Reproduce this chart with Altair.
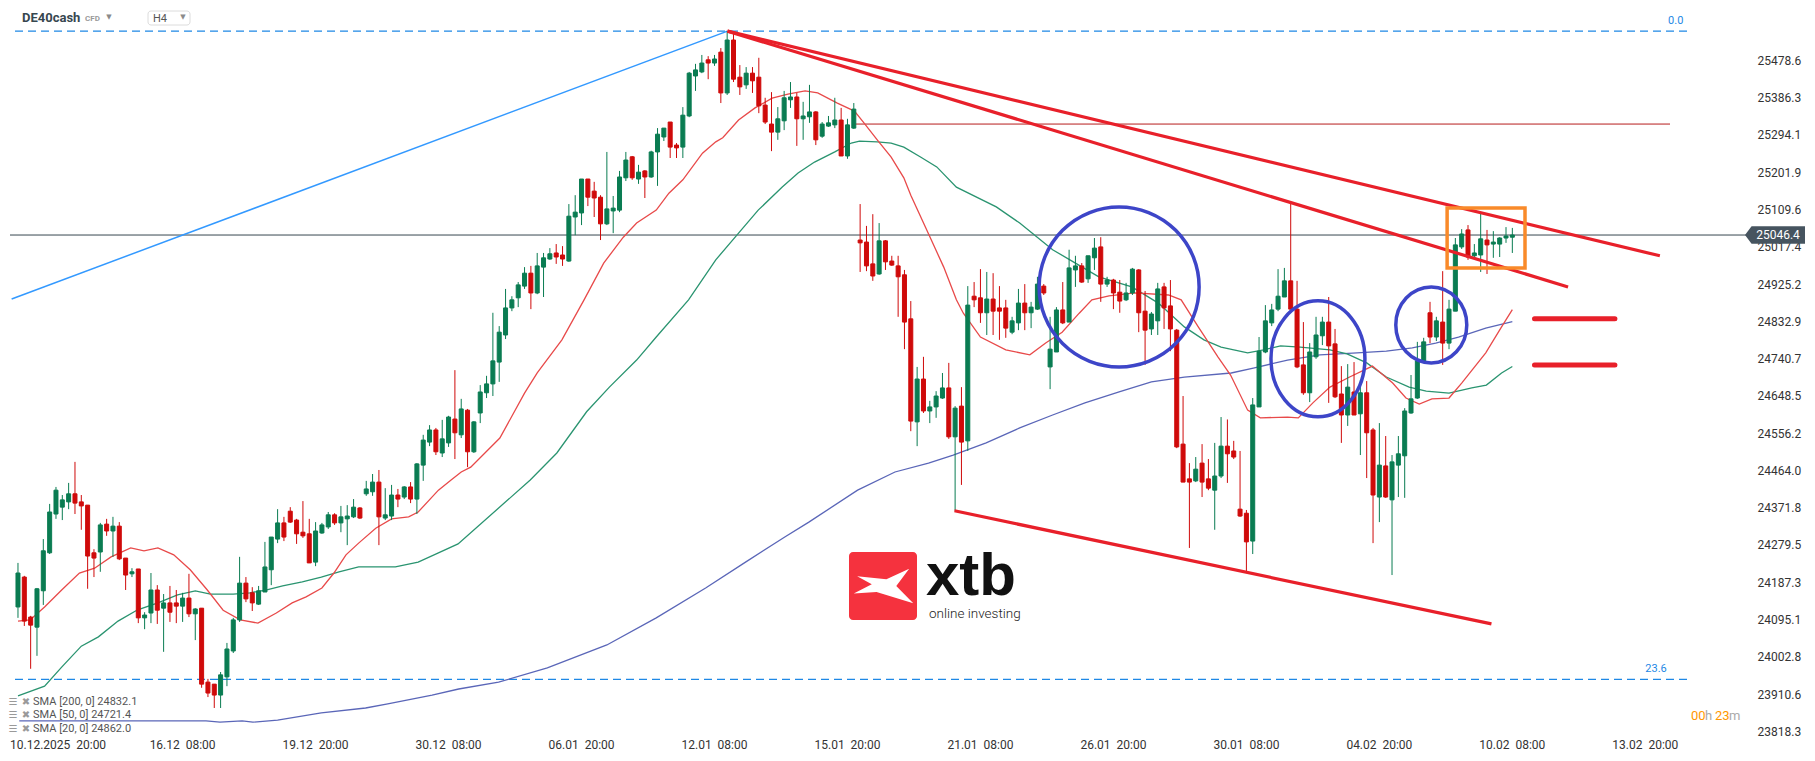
import altair as alt
import pandas as pd

# ---------------- data ----------------
OPEN = [24126,24200,24101,24076,24166,24260,24356,24373,24386,24406,24386,24378,24260,24262,24331,24314,24326,24247,24208,24220,
        24099,24111,24168,24123,24136,24136,24128,24148,24109,24123,23940,23935,23908,23953,24017,24094,24185,24161,24133,24163,
        24218,24294,24334,24363,24341,24311,24307,24237,24309,24324,24354,24334,24344,24349,24371,24406,24411,24435,24346,24351,
        24403,24398,24423,24393,24477,24534,24564,24507,24532,24591,24552,24613,24510,24606,24656,24678,24732,24799,24866,24891,
        24920,24952,24903,24967,24987,25002,24997,24982,25091,25101,25185,25155,25140,25074,25106,25108,25188,25240,25185,25205,
        25190,25252,25289,25326,25269,25264,25341,25440,25450,25480,25472,25499,25398,25529,25437,25418,25447,25437,25368,25321,
        25301,25329,25381,25388,25334,25339,25351,25291,25316,25319,25331,25242,25311,25034,25029,24975,24950,25032,24982,24970,
        24948,24839,24584,24690,24611,24621,24643,24668,24547,24623,24537,24895,24891,24854,24888,24866,24866,24806,24829,24878,
        24854,24863,24920,24720,24757,24861,24831,24960,24970,24938,24990,25017,24925,24935,24905,24886,24903,24960,24858,24814,
        24834,24918,24871,24811,24529,24443,24438,24482,24443,24415,24450,24524,24512,24368,24358,24289,24621,24757,24829,24863,
        24893,24933,24863,24725,24656,24745,24797,24831,24777,24653,24601,24658,24604,24656,24564,24398,24475,24391,24477,24500,
        24606,24643,24732,24854,24794,24831,24779,24858,25017,25059,24995,24997,25034,25024,25024,25039,25041]
HIGH = [24235,24203,24104,24173,24294,24381,24423,24403,24433,24485,24403,24378,24269,24334,24344,24349,24336,24247,24222,24220,
        24113,24210,24180,24158,24178,24168,24161,24208,24123,24123,23948,23935,23965,24037,24099,24250,24200,24175,24178,24287,
        24299,24368,24349,24373,24344,24388,24344,24336,24334,24361,24358,24376,24378,24393,24373,24438,24455,24465,24420,24428,
        24418,24425,24435,24482,24552,24576,24569,24589,24599,24712,24641,24616,24586,24675,24698,24854,24821,24913,24895,24930,
        24967,24970,25002,25002,25014,25024,25019,25123,25145,25185,25185,25178,25145,25252,25143,25205,25252,25242,25220,25207,
        25255,25311,25311,25326,25274,25363,25450,25470,25492,25489,25492,25509,25551,25546,25467,25462,25462,25485,25386,25400,
        25363,25403,25425,25398,25376,25418,25353,25326,25341,25386,25361,25334,25373,25123,25069,25098,25076,25034,24995,24995,
        24960,24883,24720,24745,24636,24660,24705,24730,24623,24670,24920,24930,24962,24955,24952,24920,24886,24844,24913,24925,
        24881,24943,24925,24844,24868,24930,25010,24995,24977,24995,25039,25041,24943,24938,24935,24928,24965,24962,24908,24856,
        24928,24928,24935,24814,24648,24482,24497,24529,24492,24532,24596,24590,24537,24512,24366,24643,24794,24873,24876,24962,
        24965,25126,24933,24831,24779,24844,24844,24893,24814,24722,24727,24732,24688,24685,24569,24581,24549,24502,24549,24618,
        24700,24782,24792,24881,24844,24957,24886,25039,25061,25071,25024,25103,25059,25056,25041,25066,25064]
LOW = [24099,24079,23973,24005,24131,24257,24344,24341,24368,24356,24317,24171,24200,24213,24302,24250,24242,24168,24200,24086,
       24071,24086,24084,24015,24089,24086,24089,24101,24044,23926,23903,23876,23876,23930,24012,24089,24138,24116,24131,24163,
       24180,24284,24289,24334,24282,24297,24235,24227,24307,24319,24329,24311,24279,24346,24344,24401,24401,24279,24341,24341,
       24373,24393,24383,24356,24438,24524,24502,24497,24522,24492,24544,24472,24507,24581,24643,24648,24683,24789,24858,24868,
       24913,24863,24900,24893,24985,24975,24970,24980,25046,25071,25118,25091,25034,25071,25051,25103,25180,25183,25173,25138,
       25188,25168,25279,25237,25237,25237,25338,25403,25447,25432,25465,25373,25393,25425,25393,25408,25398,25348,25321,25254,
       25282,25306,25361,25267,25282,25324,25269,25287,25314,25311,25242,25235,25309,24955,24957,24933,24948,24960,24970,24844,
       24764,24561,24524,24606,24581,24594,24641,24542,24364,24428,24512,24868,24829,24799,24799,24787,24792,24801,24811,24811,
       24816,24861,24898,24665,24757,24826,24831,24918,24928,24928,24960,24881,24918,24863,24854,24883,24898,24806,24725,24799,
       24799,24814,24759,24519,24435,24272,24435,24398,24415,24317,24445,24433,24492,24349,24213,24257,24621,24754,24821,24858,
       24893,24863,24717,24651,24633,24740,24774,24631,24643,24532,24574,24601,24502,24445,24284,24336,24396,24205,24398,24396,
       24604,24641,24730,24779,24784,24725,24764,24858,25012,24985,24992,24955,24950,24990,24992,25027,25002]
CLOSE = [24210,24091,24081,24171,24265,24361,24415,24391,24406,24383,24376,24252,24247,24329,24314,24326,24245,24205,24213,24099,
         24106,24168,24118,24136,24113,24128,24148,24109,24121,23935,23913,23908,23958,24022,24094,24185,24146,24136,24166,24225,
         24299,24334,24299,24336,24307,24302,24235,24314,24329,24354,24334,24349,24351,24373,24346,24418,24435,24349,24354,24403,
         24393,24423,24393,24480,24539,24564,24510,24542,24596,24557,24616,24510,24584,24658,24678,24735,24806,24866,24886,24923,
         24952,24903,24970,24990,25000,24992,24987,25093,25103,25185,25140,25138,25074,25111,25113,25190,25232,25188,25202,25190,
         25252,25296,25311,25264,25262,25343,25447,25455,25472,25472,25482,25398,25529,25432,25413,25447,25428,25366,25326,25301,
         25334,25386,25388,25334,25341,25351,25282,25321,25324,25331,25242,25319,25358,25027,24970,24945,25032,24980,24972,24943,
         24831,24586,24690,24611,24621,24648,24668,24547,24618,24534,24873,24886,24854,24888,24858,24858,24816,24834,24878,24854,
         24868,24925,24903,24764,24861,24829,24965,24970,24930,24995,25014,24925,24935,24903,24883,24903,24962,24854,24811,24851,
         24913,24866,24814,24522,24435,24435,24467,24435,24420,24450,24524,24505,24497,24351,24287,24626,24759,24834,24861,24895,
         24933,24863,24720,24656,24757,24799,24831,24772,24646,24601,24670,24601,24656,24557,24403,24477,24398,24485,24505,24611,
         24641,24735,24782,24794,24834,24779,24863,25022,25049,24992,25002,25037,25022,25029,25039,25044,25046.4]

SMA20_IDX = [0,1.9,4.2,6.9,9.7,12.1,14.7,17.8,19.9,22.1,24.6,27.2,29.9,32.4,35.1,37.9,40.8,43.3,45.5,48.0,49.9,51.8,53.8,
             56.5,59.0,61.7,63.2,66.4,68.4,70.0,71.5,76.1,80.0,82.0,85.9,89.4,92.5,95.6,97.7,100.8,102.8,105.0,108.1,110.2,
             111.3,113.8,116.4,119.1,121.6,124.3,126.3,129.4,132.1,133.6,135.7,137.9,139.9,141.0,144.1,146.2,148.2,149.3,
             152.0,156.0,159.8,162.3,164.9,167.6,169.6,172.3,176.4,181.7,183.7,186.4,189.5,191.5,194.2,196.2,200.5,202.2,
             204.5,207.2,210.3,213.9,217.1,219.2,221.3,223.3,226.0,228.0,231.8,234.3,236]
SMA20_VAL = [24091,24094,24126,24168,24210,24222,24250,24272,24265,24272,24255,24218,24168,24118,24094,24086,24111,24136,
             24151,24173,24210,24255,24284,24321,24344,24349,24361,24415,24440,24460,24472,24544,24655,24705,24787,24886,
             24977,25041,25076,25108,25150,25183,25249,25277,25287,25331,25361,25385,25395,25403,25398,25373,25353,25324,
             25282,25239,25188,25145,25039,24967,24886,24853,24794,24762,24750,24779,24806,24853,24886,24896,24903,24898,
             24886,24819,24745,24700,24613,24594,24596,24594,24631,24670,24695,24722,24680,24643,24628,24641,24643,24680,
             24755,24819,24862]
SMA50_IDX = [0,4.2,6.9,10.0,12.7,15.8,18.9,22.1,25.2,28.0,30.4,34.0,36.6,39.3,41.8,44.9,47.9,50.7,53.8,59.6,63.2,66.4,
             69.5,80.9,85.1,89.8,93.4,97.7,100.8,105.9,110.2,113.8,116.9,120.7,123.2,125.8,129.0,131.6,132.9,135.7,137.9,
             139.9,142.6,145.1,148.2,154.5,158.2,163.4,167.0,170.7,175.9,180.1,184.2,187.3,190.0,194.2,196.7,199.4,202.5,
             207.2,209.9,213.0,216.1,219.7,222.4,226.0,229.6,231.9,234.3,236]
SMA50_VAL = [23906,23930,23977,24029,24052,24091,24119,24136,24156,24166,24158,24158,24161,24168,24178,24188,24200,24213,
             24225,24225,24237,24260,24282,24440,24507,24609,24670,24737,24794,24886,24985,25051,25108,25165,25200,25227,
             25252,25274,25279,25277,25274,25264,25239,25215,25165,25116,25076,25010,24977,24943,24918,24878,24819,24787,
             24769,24755,24762,24772,24769,24762,24752,24730,24695,24670,24660,24655,24668,24675,24705,24721]
SMA200_IDX = [0.2,29.7,31.9,35.4,37.1,41.0,47.9,54.9,58.4,65.4,69.6,75.9,83.6,93.0,100.8,108.6,114.9,121.1,124.9,132.6,
              138.5,143.8,147.7,152.9,158.2,163.4,168.5,173.9,179.0,184.2,191.6,195.1,200.5,205.6,210.8,216.1,220.2,223.9,
              227.5,231.8,236]
SMA200_VAL = [23844,23844,23841,23844,23841,23846,23864,23876,23886,23908,23923,23940,23975,24032,24099,24173,24237,24299,
              24336,24415,24460,24482,24502,24532,24569,24601,24631,24658,24683,24695,24705,24717,24737,24750,24754,24759,
              24767,24779,24794,24816,24832]

X_LABEL_IDX = [5, 26, 47, 68, 89, 110, 131, 152, 173, 194, 215, 236, 257]
X_LABELS = ["10.12.2025\u00a0\u00a020:00", "16.12\u00a0\u00a008:00", "19.12\u00a0\u00a020:00", "30.12\u00a0\u00a008:00",
            "06.01\u00a0\u00a020:00", "12.01\u00a0\u00a008:00", "15.01\u00a0\u00a020:00", "21.01\u00a0\u00a008:00",
            "26.01\u00a0\u00a020:00", "30.01\u00a0\u00a008:00", "04.02\u00a0\u00a020:00", "10.02\u00a0\u00a008:00",
            "13.02\u00a0\u00a020:00"]
Y_TICKS = [23818.3, 23910.6, 24002.8, 24095.1, 24187.3, 24279.5, 24371.8, 24464.0, 24556.2, 24648.5, 24740.7,
           24832.9, 24925.2, 25017.4, 25109.6, 25201.9, 25294.1, 25386.3, 25478.6]

LAST_PRICE = 25046.4
FIB_LEVELS = [25551, 23947]
FIB_NAMES = ["0.0", "23.6"]
FIB_START_IDX = -0.47
FIB_END_IDX = 263.6
FIB_LABEL_IDX = [261.8, 258.7]
FIB_ANCHOR_IDX = [-1.0, 112.05]
FIB_ANCHOR_VAL = [24888, 25551]
HLINE_IDX = [132.2, 260.9]
HLINE_VAL = 25321
TREND_IDX = [[112.05, 259.3], [112.05, 244.8], [147.9, 232.7]]
TREND_VAL = [[25551, 24995], [25551, 24918], [24364, 24084]]
CIRCLE_IDX = [173.9, 205.3, 223.2]
CIRCLE_VAL = [24918, 24740, 24824]
BOX_IDX = [225.7, 238.0]
BOX_VAL = [24965, 25113]
MARK_IDX = [239.5, 252.2]
MARK_VAL = [24839, 24725]
SMA_LEGEND = ["SMA\u00a0[200,\u00a00]\u00a024832.1", "SMA\u00a0[50,\u00a00]\u00a024721.4", "SMA\u00a0[20,\u00a00]\u00a024862.0"]

# ---------------- styling ----------------
W, H = 1737, 729
GREEN, RED = "#0a7c52", "#cf0a0a"
XS = alt.Scale(domain=[-0.471, 272.27], nice=False, zero=False)
YS = alt.Scale(domain=[23804.2, 25608.2], nice=False, zero=False)
YAXIS = alt.Axis(orient="right", values=Y_TICKS, format=".1f", domain=False, ticks=False, grid=False,
                 labelPadding=10, labelFontSize=12, labelColor="#333333", labelFont="Roboto",
                 labelOverlap=False, title=None)


def X(f):
    return alt.X(f"{f}:Q", scale=XS, axis=None)


def Y(f):
    return alt.Y(f"{f}:Q", scale=YS, axis=YAXIS)


one = pd.DataFrame({"a": [0]})
layers = []

# fib dashed levels
fib_df = pd.DataFrame({"p": FIB_LEVELS, "x0": [FIB_START_IDX] * 2, "x1": [FIB_END_IDX] * 2,
                       "t": FIB_NAMES, "li": FIB_LABEL_IDX})
layers.append(alt.Chart(fib_df).mark_rule(color="#1e88e5", strokeWidth=1.3, strokeDash=[8, 5]).encode(
    x=X("x0"), x2="x1", y=Y("p")))
layers.append(alt.Chart(fib_df).mark_text(color="#1e88e5", fontSize=11, dy=-10, font="Roboto").encode(
    x=X("li"), y=Y("p"), text="t:N"))

# current price line
layers.append(alt.Chart(pd.DataFrame({"p": [LAST_PRICE]})).mark_rule(color="#37474f", strokeWidth=1).encode(
    x=alt.value(0), x2=alt.value(W), y=Y("p")))

# thin horizontal line
layers.append(alt.Chart(pd.DataFrame({"x0": [HLINE_IDX[0]], "x1": [HLINE_IDX[1]], "p": [HLINE_VAL]})).mark_rule(
    color="#b71c1c", strokeWidth=1).encode(x=X("x0"), x2="x1", y=Y("p")))

# fib anchor diagonal
layers.append(alt.Chart(pd.DataFrame({"i": FIB_ANCHOR_IDX, "p": FIB_ANCHOR_VAL})).mark_line(
    color="#3399ff", strokeWidth=1.5, clip=True).encode(x=X("i"), y=Y("p")))

# SMAs
for idx, val, col in [(SMA200_IDX, SMA200_VAL, "#5a66b8"), (SMA50_IDX, SMA50_VAL, "#2a9470"),
                      (SMA20_IDX, SMA20_VAL, "#e84a4a")]:
    layers.append(alt.Chart(pd.DataFrame({"i": idx, "v": val})).mark_line(color=col, strokeWidth=1.3).encode(
        x=X("i"), y=Y("v")))

# candles
candles = pd.DataFrame({"i": list(range(len(OPEN))), "o": OPEN, "h": HIGH, "l": LOW, "c": CLOSE})
ccol = alt.condition("datum.c >= datum.o", alt.value(GREEN), alt.value(RED))
layers.append(alt.Chart(candles).mark_rule(strokeWidth=1).encode(x=X("i"), y=Y("l"), y2="h", color=ccol))
layers.append(alt.Chart(candles).mark_bar(width=4, strokeWidth=1).encode(
    x=X("i"), y=Y("o"), y2="c", color=ccol, stroke=ccol))

# red trend lines
trend_rows = []
for g, (ii, vv) in enumerate(zip(TREND_IDX, TREND_VAL)):
    for a, b in zip(ii, vv):
        trend_rows.append({"g": g, "i": a, "p": b})
layers.append(alt.Chart(pd.DataFrame(trend_rows)).mark_line(color="#e8202a", strokeWidth=3.2).encode(
    x=X("i"), y=Y("p"), detail="g:N"))

# blue circles / ellipses
circ = pd.DataFrame({"i": CIRCLE_IDX, "p": CIRCLE_VAL})
shapes = ["circle",
          "M -0.81 0 A 0.81 1 0 1 0 0.81 0 A 0.81 1 0 1 0 -0.81 0 Z",
          "M -0.934 0 A 0.934 1 0 1 0 0.934 0 A 0.934 1 0 1 0 -0.934 0 Z"]
sizes = [25600, 13456, 5776]
for k in range(3):
    layers.append(alt.Chart(circ.iloc[[k]]).mark_point(shape=shapes[k], size=sizes[k], filled=False,
                                                        color="#3d45c8", strokeWidth=3.5, opacity=1).encode(
        x=X("i"), y=Y("p")))

# orange box
layers.append(alt.Chart(pd.DataFrame({"x0": [BOX_IDX[0]], "x1": [BOX_IDX[1]], "y0": [BOX_VAL[0]], "y1": [BOX_VAL[1]]}))
              .mark_rect(fillOpacity=0, stroke="#f98a2a", strokeWidth=3.5).encode(
    x=X("x0"), x2="x1", y=Y("y0"), y2="y1"))

# short red marker lines
layers.append(alt.Chart(pd.DataFrame({"x0": [MARK_IDX[0]] * 2, "x1": [MARK_IDX[1]] * 2, "p": MARK_VAL}))
              .mark_rule(color="#e8202a", strokeWidth=5, strokeCap="round").encode(
    x=X("x0"), x2="x1", y=Y("p")))

# xtb logo
layers.append(alt.Chart(one).mark_rect(color="#f5323e", cornerRadius=4).encode(
    x=alt.value(839), x2=alt.value(907), y=alt.value(544), y2=alt.value(612)))
XPATH = "M -0.76 -0.29 L 0.1 -0.2 L 0.77 -0.51 L 0.39 0 L 0.89 0.51 L -0.19 0.18 L -0.86 0.22 L -0.33 -0.05 Z"
layers.append(alt.Chart(one).mark_point(shape=XPATH, size=4624, filled=True, color="white", opacity=1).encode(
    x=alt.value(873), y=alt.value(578)))
layers.append(alt.Chart(pd.DataFrame({"t": ["xtb"]})).mark_text(
    font="Liberation Sans", fontWeight="bold", fontSize=60, align="left", baseline="alphabetic", color="#111111").encode(
    x=alt.value(916), y=alt.value(587), text="t:N"))
layers.append(alt.Chart(pd.DataFrame({"t": ["online investing"]})).mark_text(
    font="Roboto", fontWeight=300, fontSize=13.5, align="left", baseline="alphabetic", color="#222222").encode(
    x=alt.value(919), y=alt.value(610), text="t:N"))

# x labels
layers.append(alt.Chart(pd.DataFrame({"t": [X_LABELS[0]]})).mark_text(
    font="Roboto", fontSize=12, align="left", color="#333333").encode(
    x=alt.value(0), y=alt.value(737), text="t:N"))
layers.append(alt.Chart(pd.DataFrame({"i": X_LABEL_IDX[1:], "t": X_LABELS[1:]})).mark_text(
    font="Roboto", fontSize=12, align="center", color="#333333").encode(
    x=X("i"), y=alt.value(737), text="t:N"))

# SMA legend
leg = pd.DataFrame({"t": SMA_LEGEND, "row": [0, 1, 2]})
for k, yy in enumerate([694, 707, 721]):
    layers.append(alt.Chart(leg.iloc[[k]]).mark_text(font="Roboto", fontSize=11, align="left",
                                                      color="#555555").encode(
        x=alt.value(23), y=alt.value(yy), text="t:N"))
    layers.append(alt.Chart(one).mark_text(font="DejaVu Sans", fontSize=10, color="#9a9a9a", text="\u2630").encode(
        x=alt.value(3), y=alt.value(yy)))
    layers.append(alt.Chart(one).mark_text(font="DejaVu Sans", fontSize=10, color="#9a9a9a", text="\u2716").encode(
        x=alt.value(16), y=alt.value(yy)))

# countdown
for txt, xx, col in [("00", 1681, "#ff9800"), ("h", 1695, "#aaaaaa"), ("23", 1705, "#ff9800"), ("m", 1719, "#aaaaaa")]:
    layers.append(alt.Chart(pd.DataFrame({"t": [txt]})).mark_text(font="Roboto", fontSize=13, align="left",
                                                                  color=col).encode(
        x=alt.value(xx), y=alt.value(708), text="t:N"))

# header
layers.append(alt.Chart(pd.DataFrame({"t": ["DE40cash"]})).mark_text(
    font="Roboto", fontWeight="bold", fontSize=13, align="left", color="#37474f").encode(
    x=alt.value(12), y=alt.value(10), text="t:N"))
layers.append(alt.Chart(pd.DataFrame({"t": ["CFD"]})).mark_text(
    font="Roboto", fontWeight="bold", fontSize=8, align="left", color="#9a9a9a").encode(
    x=alt.value(75), y=alt.value(11), text="t:N"))
layers.append(alt.Chart(one).mark_rect(fill="white", stroke="#dcdcdc", strokeWidth=1, cornerRadius=3).encode(
    x=alt.value(138), x2=alt.value(180), y=alt.value(3), y2=alt.value(17)))
layers.append(alt.Chart(pd.DataFrame({"t": ["H4"]})).mark_text(
    font="Roboto", fontSize=11, align="left", color="#555555").encode(
    x=alt.value(143), y=alt.value(11), text="t:N"))
for xx in [99, 173]:
    layers.append(alt.Chart(one).mark_text(font="DejaVu Sans", fontSize=7, color="#8a8a8a", text="\u25bc").encode(
        x=alt.value(xx), y=alt.value(9)))

# price tag
TAG = "M -1 0 L -0.78 -0.29 L 1 -0.29 L 1 0.29 L -0.78 0.29 Z"
tag_df = pd.DataFrame({"p": [LAST_PRICE], "t": ["25046.4"]})
layers.append(alt.Chart(tag_df).mark_point(shape=TAG, size=3600, filled=True, color="#46545f", opacity=1).encode(
    x=alt.value(1765), y=Y("p")))
layers.append(alt.Chart(tag_df).mark_text(font="Roboto", fontSize=12, color="white").encode(
    x=alt.value(1768), y=Y("p"), text="t:N"))

chart = alt.layer(*layers).properties(width=W, height=H, padding=0, background="white").configure_view(stroke=None)
chart.save("out.html", embed_options={"renderer": "svg", "actions": False})
